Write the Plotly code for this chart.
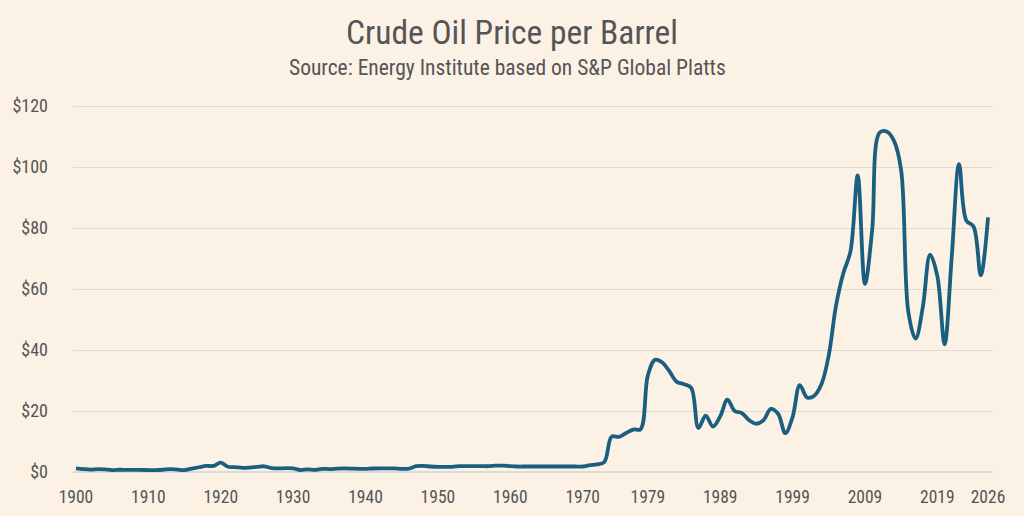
import plotly.graph_objects as go

years = list(range(1900, 2027))
prices = [
    1.19, 0.96, 0.80, 0.94, 0.86, 0.62, 0.73, 0.72, 0.72, 0.70,   # 1900s
    0.61, 0.61, 0.74, 0.95, 0.81, 0.64, 1.10, 1.56, 1.98, 2.01,   # 1910s
    3.07, 1.73, 1.61, 1.34, 1.43, 1.68, 1.88, 1.30, 1.17, 1.27,   # 1920s
    1.19, 0.65, 0.87, 0.67, 1.00, 0.97, 1.09, 1.18, 1.13, 1.02,   # 1930s
    1.02, 1.14, 1.19, 1.20, 1.21, 1.05, 1.12, 1.90, 1.99, 1.80,   # 1940s
    1.71, 1.71, 1.71, 1.93, 1.93, 1.93, 1.93, 1.90, 2.08, 2.08,   # 1950s
    1.90, 1.80, 1.80, 1.80, 1.80, 1.80, 1.80, 1.80, 1.80, 1.80,   # 1960s
    1.80, 2.24, 2.48, 3.29, 11.58, 11.53, 12.80, 13.92, 14.02, 31.61,  # 1970s
    36.83, 35.93, 32.97, 29.55, 28.78, 27.56, 14.43, 18.44, 14.92, 18.23,  # 1980s
    23.73, 20.00, 19.32, 16.97, 15.82, 17.02, 20.67, 19.09, 12.72, 17.97,  # 1990s
    28.50, 24.44, 25.02, 28.83, 38.27, 54.52, 65.14, 72.39, 97.26, 61.67,  # 2000s
    79.50, 111.26, 111.67, 108.66, 98.95, 52.39, 43.73, 54.19, 71.31, 64.21,  # 2010s
    41.84, 70.91, 100.93, 82.49, 80.53, 64.5, 83.5,                        # 2020s
]

x_tick_vals = [1900, 1910, 1920, 1930, 1940, 1950, 1960, 1970, 1979, 1989, 1999, 2009, 2019, 2026]
y_tick_vals = [0, 20, 40, 60, 80, 100, 120]
y_tick_text = ["$0", "$20", "$40", "$60", "$80", "$100", "$120"]

title_text = "Crude Oil Price per Barrel"
subtitle_text = "Source: Energy Institute based on S&P Global Platts"

FONT = "Roboto Condensed, Roboto, sans-serif"
BG = "#fcf1e5"
TXT = "#555555"

fig = go.Figure()
fig.add_trace(go.Scatter(
    x=years, y=prices, mode="lines",
    line=dict(color="#1a5f80", width=3.8, shape="spline", smoothing=1.0),
    hoverinfo="skip", showlegend=False,
))

fig.update_layout(
    width=1024, height=516,
    paper_bgcolor=BG, plot_bgcolor=BG,
    margin=dict(l=73, r=31, t=100, b=44),
    font=dict(family=FONT, color=TXT, size=17),
    xaxis=dict(
        range=[1899.59, 2026.69],
        tickvals=x_tick_vals,
        ticktext=[str(v) for v in x_tick_vals],
        showgrid=False, zeroline=False,
        showline=False, automargin=False,
        ticks="", ticklabelstandoff=12,
        tickfont=dict(family=FONT, size=17.5, color=TXT),
        fixedrange=True,
    ),
    yaxis=dict(
        range=[0, 122],
        tickvals=y_tick_vals, ticktext=y_tick_text,
        showgrid=True, gridcolor="#dedbd8", gridwidth=1.3,
        zeroline=True, zerolinecolor="#dcdad7", zerolinewidth=2,
        ticks="", ticklabelstandoff=24, automargin=False,
        tickfont=dict(family=FONT, size=18, color=TXT),
        fixedrange=True,
    ),
    annotations=[
        dict(text=title_text, xref="paper", yref="paper", x=0.4772, y=1, xanchor="center",
             yanchor="bottom", yshift=46, showarrow=False,
             font=dict(family=FONT, size=33.5, color=TXT)),
        dict(text=subtitle_text, xref="paper", yref="paper", x=0.4723, y=1, xanchor="center",
             yanchor="bottom", yshift=18, showarrow=False,
             font=dict(family=FONT, size=21.5, color=TXT)),
    ],
)

fig.write_html(
    "out.html",
    config={"displayModeBar": False},
    post_script="document.body.style.margin='0';document.body.style.background='#fcf1e5';",
)
